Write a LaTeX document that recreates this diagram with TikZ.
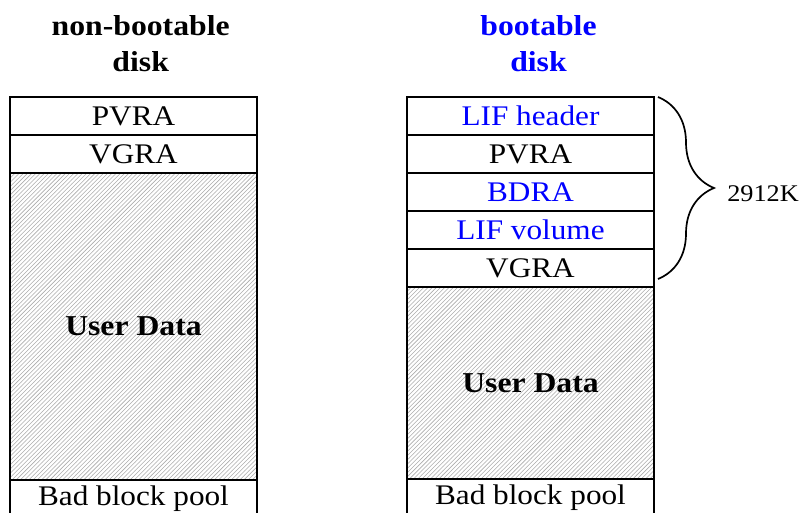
\documentclass[tikz,border=0pt]{standalone}
\usepackage{fontspec}
\setmainfont{Liberation Serif}[FakeStretch=1.1]
\usepackage{tikz}
\usetikzlibrary{chains, positioning, patterns}
\usetikzlibrary{decorations.pathreplacing}

\begin{document}
\begin{tikzpicture}[
    font = \fontsize{20.2}{25.6}\selectfont,
    node distance = 0mm,
    box/.style = {draw, line width=1.4pt, minimum width=6.175cm,
        minimum height=0.95cm, inner sep=0pt, outer sep=0mm, on chain},
    userdata/.style = {box, pattern=north east lines, pattern color=gray!65,
        font=\fontsize{20.5}{25.6}\selectfont\bfseries},
    title/.style = {align=center, inner sep=0pt,
        font=\fontsize{20.5}{25.6}\selectfont\bfseries}
  ]
  \clip (0,0) rectangle (20,-12.825);

  % non-bootable disk
  \begin{scope}[shift={(3.3375,-2.9)}, start chain=going below]
  \foreach \t [count=\j] in {PVRA, VGRA}
  \node[box] (l\j) {\t};
  \node[userdata, minimum height=7.675cm] (ldata) {User Data};
  \node[box] (lbad) {Bad block pool};
  \end{scope}
  \node[title, above=0.625cm of l1, xshift=0.18cm] (ltitle) {non-bootable\\disk};

  % bootable disk
  \begin{scope}[shift={(13.2625,-2.9)}, start chain=going below]
  \foreach \t/\c [count=\j] in {LIF header/blue, PVRA/black, BDRA/blue, LIF volume/blue, VGRA/black}
  \node[box, text=\c] (r\j) {\t};
  \node[userdata, minimum height=4.8cm] (rdata) {User Data};
  \node[box] (rbad) {Bad block pool};
  \end{scope}
  \node[title, text=blue, above=0.625cm of r1, xshift=0.2cm] (rtitle) {bootable\\disk};

  \draw[decorate, decoration={brace, amplitude=1.4cm}, line width=1.2pt]
    ([xshift=0.1cm]r1.north east) -- ([xshift=0.1cm, yshift=0.2cm]r5.south east);
  \node[anchor=west, inner sep=0pt, font=\fontsize{17}{20}\selectfont] (size) at (18.175,-4.845) {2912K};
\end{tikzpicture}
\end{document}
